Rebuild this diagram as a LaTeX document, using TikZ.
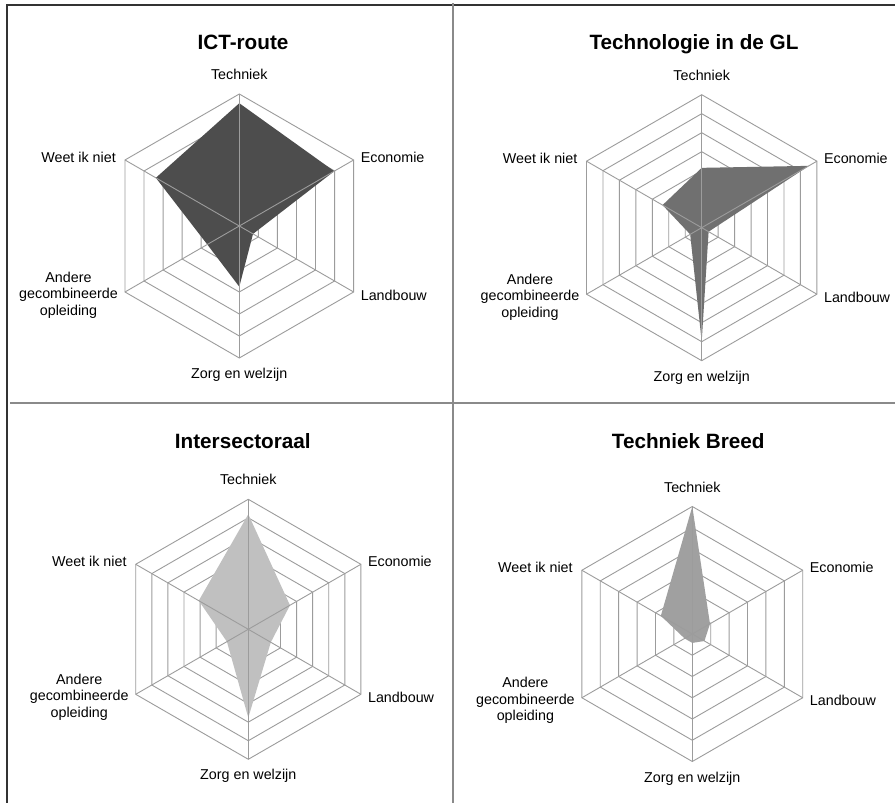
\documentclass[tikz,border=0pt]{standalone}
\usepackage{fontspec}
\setmainfont{Liberation Sans}
\usetikzlibrary{positioning}

\definecolor{gridgray}{HTML}{9C9C9C}
\definecolor{framegray}{HTML}{333333}
\definecolor{divgray}{HTML}{8A8A8A}
\definecolor{ictfill}{HTML}{4D4D4D}
\definecolor{glfill}{HTML}{707070}
\definecolor{intfill}{HTML}{C0C0C0}
\definecolor{breedfill}{HTML}{A0A0A0}

\tikzset{
  grid line/.style={draw=gridgray, line width=0.9pt},
  axis label/.style={font=\fontsize{14.3}{16.5}\selectfont, inner sep=2pt},
  chart title/.style={font=\bfseries\fontsize{20.7}{24}\selectfont, inner sep=0pt},
  frame/.style={draw=framegray, line width=2pt},
  divider/.style={draw=divgray, line width=2pt}
}

% #1 name, #2 centre, #3 radius, #4 rings, #5 fill, #6 values, #7 title point, #8 title
\newcommand{\radar}[8]{%
  \begin{scope}[shift={#2}]
    \coordinate (#1-c) at (0,0);
    \foreach \i in {1,...,6}
      \coordinate (#1-v\i) at (150-60*\i:#3);
    \foreach \k in {1,...,#4}
      \draw[grid line] (90:\k*#3/#4) -- (30:\k*#3/#4) -- (-30:\k*#3/#4)
        -- (-90:\k*#3/#4) -- (-150:\k*#3/#4) -- (150:\k*#3/#4) -- cycle;
    \foreach \v [count=\i] in {#6}
      \coordinate (#1-p\i) at (150-60*\i:\v*#3);
    \fill[#5] (#1-p1) -- (#1-p2) -- (#1-p3) -- (#1-p4) -- (#1-p5) -- (#1-p6) -- cycle;
    \foreach \i in {1,...,6}
      \draw[grid line] (#1-c) -- (#1-v\i);
    \node[axis label, above=12pt of #1-v1] (#1-tech) {Techniek};
    \node[axis label, right=5pt of #1-v2, yshift=3pt] (#1-eco) {Economie};
    \node[axis label, right=5pt of #1-v3, yshift=-3pt] (#1-land) {Landbouw};
    \node[axis label, below=8pt of #1-v4] (#1-zorg) {Zorg en welzijn};
    \node[axis label, left=5pt of #1-v5, yshift=-3pt, align=center] (#1-andere)
      {Andere\\gecombineerde\\opleiding};
    \node[axis label, left=7pt of #1-v6, yshift=3pt] (#1-weet) {Weet ik niet};
  \end{scope}
  \node[chart title, anchor=base] (#1-title) at #7 {#8};
}

\begin{document}
\begin{tikzpicture}[x=1pt, y=1pt]
  \useasboundingbox (0,0) rectangle (895,803);
  \fill[white] (0,0) rectangle (895,803);

  % frame and dividers
  \draw[frame] (6.5,0) -- (6.5,798) -- (895,798);
  \draw[divider] (453,0) -- (453,800);
  \draw[divider] (10,399.5) -- (895,399.5);

  % the four charts
  \radar{ict}{(239.3,577)}{132}{6}{ictfill}{0.93,0.83,0.12,0.46,0.28,0.73}{(243,753.7)}{ICT-route}
  \radar{gl}{(701.7,575.3)}{133}{7}{glfill}{0.45,0.93,0.06,0.855,0.10,0.34}{(694,753.7)}{Technologie in de GL}
  \radar{inter}{(248.3,173.7)}{130}{7}{intfill}{0.885,0.37,0.20,0.68,0.19,0.44}{(242.8,354)}{Intersectoraal}
  \radar{breed}{(692.3,169)}{127.5}{6}{breedfill}{1.0,0.16,0.11,0.07,0.07,0.285}{(688.2,354)}{Techniek Breed}
\end{tikzpicture}
\end{document}
